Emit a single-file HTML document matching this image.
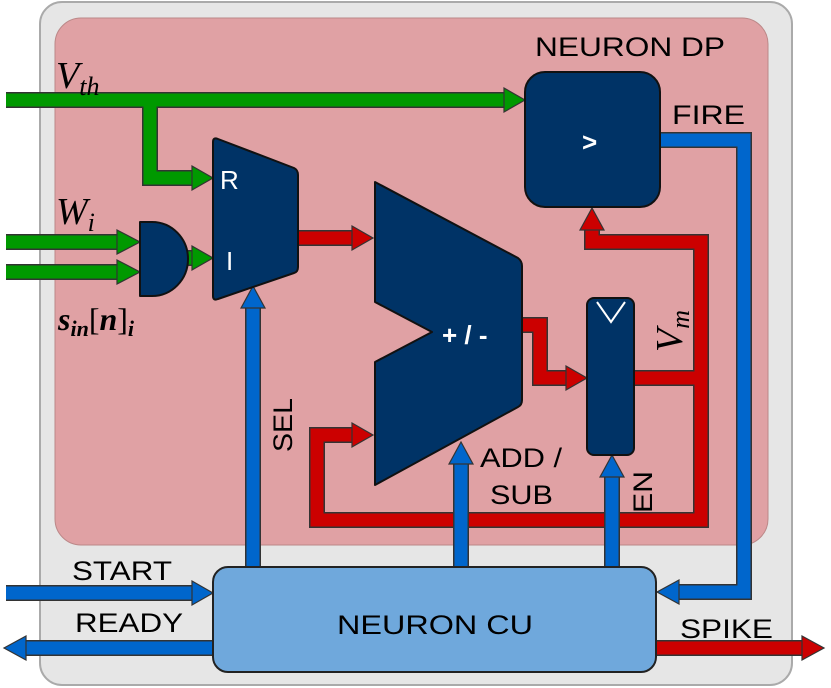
<!DOCTYPE html>
<html><head><meta charset="utf-8"><style>
html,body{margin:0;padding:0;background:#fff;}
svg{display:block;}
.t{font-family:"Liberation Sans",sans-serif;font-size:27px;fill:#000;}
.w{font-family:"Liberation Sans",sans-serif;font-size:26px;fill:#fff;}
.m{font-family:"Liberation Serif",serif;font-style:italic;fill:#000;}
</style></head><body>
<svg width="831" height="688" viewBox="0 0 831 688" xmlns="http://www.w3.org/2000/svg">
<rect x="40" y="2" width="752" height="683" rx="22" fill="#e6e6e6" stroke="#aaa" stroke-width="2"/>
<rect x="55" y="18" width="713" height="527" rx="26" fill="#e0a1a4" stroke="#b88" stroke-width="1"/>

<g stroke-linejoin="miter" fill="none">
<g stroke="#333" stroke-width="16">
<polyline points="6,100 506,100"/><polyline points="150,100 150,178 195,178"/>
<polyline points="6,242 120,242"/><polyline points="6,272 120,272"/><polyline points="175,258 195,258"/>
</g>
<g stroke="#009900" stroke-width="13">
<polyline points="6,100 506,100"/><polyline points="150,94 150,178 195,178"/>
<polyline points="6,242 120,242"/><polyline points="6,272 120,272"/><polyline points="175,258 195,258"/>
</g>
<g stroke="#333" stroke-width="16">
<polyline points="298,238 355,238"/>
<polyline points="522,325 540,325 540,378 569,378"/>
<polyline points="634,378 701,378"/>
<polyline points="592,228 592,242 701,242 701,520 317,520 317,435 355,435"/>
<polyline points="656,648 805,648"/>
</g>
<g stroke="#cc0000" stroke-width="13">
<polyline points="298,238 355,238"/>
<polyline points="522,325 540,325 540,378 569,378"/>
<polyline points="634,378 701,378"/>
<polyline points="592,228 592,242 701,242 701,520 317,520 317,435 355,435"/>
<polyline points="656,648 805,648"/>
</g>
<g stroke="#333" stroke-width="16">
<polyline points="660,140 744,140 744,592 676,592"/>
<polyline points="253,567 253,305"/><polyline points="461,567 461,462"/><polyline points="612,567 612,475"/>
<polyline points="6,593 195,593"/><polyline points="213,648 24,648"/>
</g>
<g stroke="#0066cc" stroke-width="13">
<polyline points="660,140 744,140 744,592 676,592"/>
<polyline points="253,567 253,305"/><polyline points="461,567 461,462"/><polyline points="612,567 612,475"/>
<polyline points="6,593 195,593"/><polyline points="213,648 24,648"/>
</g>
</g>
<g stroke="#333" stroke-width="1.2">
<polygon fill="#009900" points="504,88 525,100 504,112"/>
<polygon fill="#009900" points="192,166 213,178 192,190"/>
<polygon fill="#009900" points="117,230 140,242 117,254"/>
<polygon fill="#009900" points="117,260 140,272 117,284"/>
<polygon fill="#009900" points="192,246 213,258 192,270"/>
<polygon fill="#cc0000" points="352,226 373,238 352,250"/>
<polygon fill="#cc0000" points="566,366 587,378 566,390"/>
<polygon fill="#cc0000" points="580,230 592,208 604,230"/>
<polygon fill="#cc0000" points="352,423 373,435 352,447"/>
<polygon fill="#cc0000" points="802,636 824,648 802,660"/>
<polygon fill="#0066cc" points="241,308 253,286 265,308"/>
<polygon fill="#0066cc" points="449,464 461,442 473,464"/>
<polygon fill="#0066cc" points="600,477 612,455 624,477"/>
<polygon fill="#0066cc" points="679,580 657,592 679,604"/>
<polygon fill="#0066cc" points="192,581 213,593 192,605"/>
<polygon fill="#0066cc" points="26,636 4,648 26,660"/>
</g>

<g fill="#003366" stroke="#111" stroke-width="2" stroke-linejoin="round">
<path d="M140,222 L152,222 A36,37 0 0 1 152,296 L140,296 Z"/>
<path d="M213,142 Q213,137 218,139 L294,168 Q298,170 298,175 L298,267 Q298,272 294,273 L218,299 Q213,301 213,296 Z"/>
<path d="M375,182 L518,258 Q522,261 522,266 L522,400 Q522,405 518,407 L375,485 L375,362 L432,332 L375,302 Z"/>
<rect x="525" y="72" width="135" height="135" rx="20"/>
<rect x="587" y="298" width="47" height="157" rx="7"/>
<rect x="213" y="567" width="443" height="105" rx="15" fill="#6fa8dc" stroke="#222"/>
</g>
<polyline points="597,302 611,322 625,302" fill="none" stroke="#fff" stroke-width="2"/>

<text class="w" x="220" y="189">R</text>
<text class="w" x="226" y="270">I</text>
<text class="w" x="442" y="344" font-weight="bold">+ / -</text>
<text class="w" x="582" y="151" font-weight="bold">&gt;</text>
<text class="t" x="535" y="56" textLength="190" lengthAdjust="spacingAndGlyphs">NEURON DP</text>
<text class="t" x="672" y="124" textLength="73" lengthAdjust="spacingAndGlyphs">FIRE</text>
<text class="t" x="337" y="634" textLength="196" lengthAdjust="spacingAndGlyphs">NEURON CU</text>
<text class="t" x="72" y="580" textLength="100" lengthAdjust="spacingAndGlyphs">START</text>
<text class="t" x="75" y="632" textLength="108" lengthAdjust="spacingAndGlyphs">READY</text>
<text class="t" x="680" y="638" textLength="93" lengthAdjust="spacingAndGlyphs">SPIKE</text>
<text class="t" x="480" y="467" textLength="82" lengthAdjust="spacingAndGlyphs">ADD /</text>
<text class="t" x="490" y="504" textLength="63" lengthAdjust="spacingAndGlyphs">SUB</text>
<text class="t" transform="translate(292,452) rotate(-90)" textLength="54" lengthAdjust="spacingAndGlyphs">SEL</text>
<text class="t" transform="translate(652,513) rotate(-90)" textLength="42" lengthAdjust="spacingAndGlyphs">EN</text>
<text class="m" transform="translate(682,352) rotate(-90)" font-size="38">V<tspan font-size="26" dy="7">m</tspan></text>
<text class="m" x="56" y="88" font-size="38">V<tspan font-size="26" dy="7">th</tspan></text>
<text class="m" x="56" y="224" font-size="38">W<tspan font-size="26" dy="7">i</tspan></text>
<text class="m" x="58" y="330" font-size="32" font-weight="bold">s<tspan font-size="22" dy="6">in</tspan><tspan dy="-6" font-style="normal" font-weight="normal">[</tspan>n<tspan font-style="normal" font-weight="normal">]</tspan><tspan font-size="22" dy="6">i</tspan></text>
</svg>
</body></html>
